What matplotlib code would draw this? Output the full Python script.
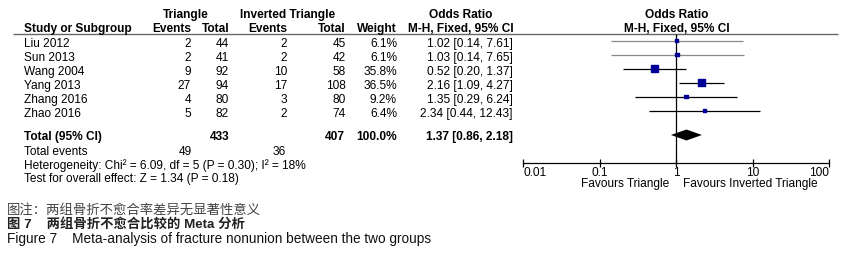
import numpy as np
import matplotlib.pyplot as plt
from matplotlib.ticker import NullLocator

plt.rcParams['font.family'] = ['Liberation Sans', 'Noto Sans CJK SC']

studies = ['Liu 2012', 'Sun 2013', 'Wang 2004', 'Yang 2013', 'Zhang 2016', 'Zhao 2016']
tri_events = [2, 2, 9, 27, 4, 5]
tri_total = [44, 41, 92, 94, 80, 82]
inv_events = [2, 2, 10, 17, 3, 2]
inv_total = [45, 42, 58, 108, 80, 74]
weight = [6.1, 6.1, 35.8, 36.5, 9.2, 6.4]
odds = [1.02, 1.03, 0.52, 2.16, 1.35, 2.34]
ci_low = [0.14, 0.14, 0.20, 1.09, 0.29, 0.44]
ci_high = [7.61, 7.65, 1.37, 4.27, 6.24, 12.43]

total_or, total_low, total_high = 1.37, 0.86, 2.18
tri_n, inv_n = 433, 407
tri_ev_sum, inv_ev_sum = 49, 36

xticks = [0.01, 0.1, 1, 10, 100]
xtick_labels = ['0.01', '0.1', '1', '10', '100']

fs = 8.6
W, H = 848, 266
fig = plt.figure(figsize=(W / 100, H / 100), dpi=100)

# pixel-space axes for all the table text
ax = fig.add_axes([0, 0, 1, 1])
ax.set_xlim(0, W)
ax.set_ylim(H, 0)
ax.axis('off')

# forest plot axes, log scale
x0, x1 = 523, 829
axf = fig.add_axes([x0 / W, 0, (x1 - x0) / W, 1])
axf.patch.set_alpha(0)
axf.set_xscale('log')
axf.set_xlim(0.01, 100)
axf.set_ylim(H, 0)
axis_y = 162.5
for s in ['left', 'right', 'top']:
    axf.spines[s].set_visible(False)
axf.spines['bottom'].set_position(('data', axis_y))
axf.spines['bottom'].set_linewidth(0.9)
axf.set_xticks(xticks, xtick_labels)
axf.xaxis.set_minor_locator(NullLocator())
axf.set_yticks([])
axf.tick_params(axis='x', direction='inout', length=6, width=0.9, labelsize=fs, pad=0.5)
tl = axf.get_xticklabels()
tl[0].set_ha('left')
tl[-1].set_ha('right')

# headers
bold = dict(fontsize=fs, fontweight='bold', va='center')
ax.text(186, 15, 'Triangle', ha='center', **bold)
ax.text(288, 15, 'Inverted Triangle', ha='center', **bold)
ax.text(461, 15, 'Odds Ratio', ha='center', **bold)
ax.text(677, 15, 'Odds Ratio', ha='center', **bold)
ax.text(24, 29, 'Study or Subgroup', ha='left', **bold)
ax.text(191, 29, 'Events', ha='right', **bold)
ax.text(229, 29, 'Total', ha='right', **bold)
ax.text(287, 29, 'Events', ha='right', **bold)
ax.text(346, 29, 'Total', ha='right', **bold)
ax.text(397, 29, 'Weight', ha='right', **bold)
ax.text(461, 29, 'M-H, Fixed, 95% CI', ha='center', **bold)
ax.text(677, 29, 'M-H, Fixed, 95% CI', ha='center', **bold)
ax.hlines(33.5, 13, 838, color='#666666', lw=1)

# study rows
reg = dict(fontsize=fs, va='center')
y_text = 44 + 14 * np.arange(len(studies))
for i, name in enumerate(studies):
    y = y_text[i]
    ax.text(24, y, name, ha='left', **reg)
    ax.text(191, y, str(tri_events[i]), ha='right', **reg)
    ax.text(229, y, str(tri_total[i]), ha='right', **reg)
    ax.text(287, y, str(inv_events[i]), ha='right', **reg)
    ax.text(346, y, str(inv_total[i]), ha='right', **reg)
    ax.text(397, y, f'{weight[i]:.1f}%', ha='right', **reg)
    ax.text(513, y, f'{odds[i]:.2f} [{ci_low[i]:.2f}, {ci_high[i]:.2f}]', ha='right', **reg)

# forest marks
y_mark = y_text - 3.5
line_cols = ['#888888', '#888888', 'black', 'black', 'black', 'black']
axf.vlines(1, 34, axis_y, color='black', lw=0.9)
axf.hlines(y_mark, ci_low, ci_high, colors=line_cols, lw=0.9)
axf.scatter(odds, y_mark, marker='s', s=np.array(weight) * 0.8, color='#000099', zorder=3)

# total row
y_tot = 137
ax.text(24, y_tot, 'Total (95% CI)', ha='left', **bold)
ax.text(229, y_tot, str(tri_n), ha='right', **bold)
ax.text(345, y_tot, str(inv_n), ha='right', **bold)
ax.text(397, y_tot, '100.0%', ha='right', **bold)
ax.text(513, y_tot, f'{total_or:.2f} [{total_low:.2f}, {total_high:.2f}]', ha='right', **bold)
yc = y_tot - 2
axf.fill([total_low, total_or, total_high, total_or], [yc, yc - 5.5, yc, yc + 5.5], color='black', lw=0)

ax.text(24, 152, 'Total events', ha='left', **reg)
ax.text(192, 152, str(tri_ev_sum), ha='right', **reg)
ax.text(286, 152, str(inv_ev_sum), ha='right', **reg)
ax.text(24, 166, 'Heterogeneity: Chi² = 6.09, df = 5 (P = 0.30); I² = 18%', ha='left', **reg)
ax.text(24, 179, 'Test for overall effect: Z = 1.34 (P = 0.18)', ha='left', **reg)

ax.text(669, 184.5, 'Favours Triangle', ha='right', **reg)
ax.text(683, 184.5, 'Favours Inverted Triangle', ha='left', **reg)

# captions
ax.text(7, 210, '图注：两组骨折不愈合率差异无显著性意义', ha='left', va='center', fontsize=9.6, color='#444444')
ax.text(7, 225, '图 7    两组骨折不愈合比较的 Meta 分析', ha='left', va='center', fontsize=9.6, fontweight='bold', color='#222222')
ax.text(7, 238.5, 'Figure 7    Meta-analysis of fracture nonunion between the two groups', ha='left', va='center', fontsize=9.8, color='#111111')

fig.savefig('out.png', dpi=100)
